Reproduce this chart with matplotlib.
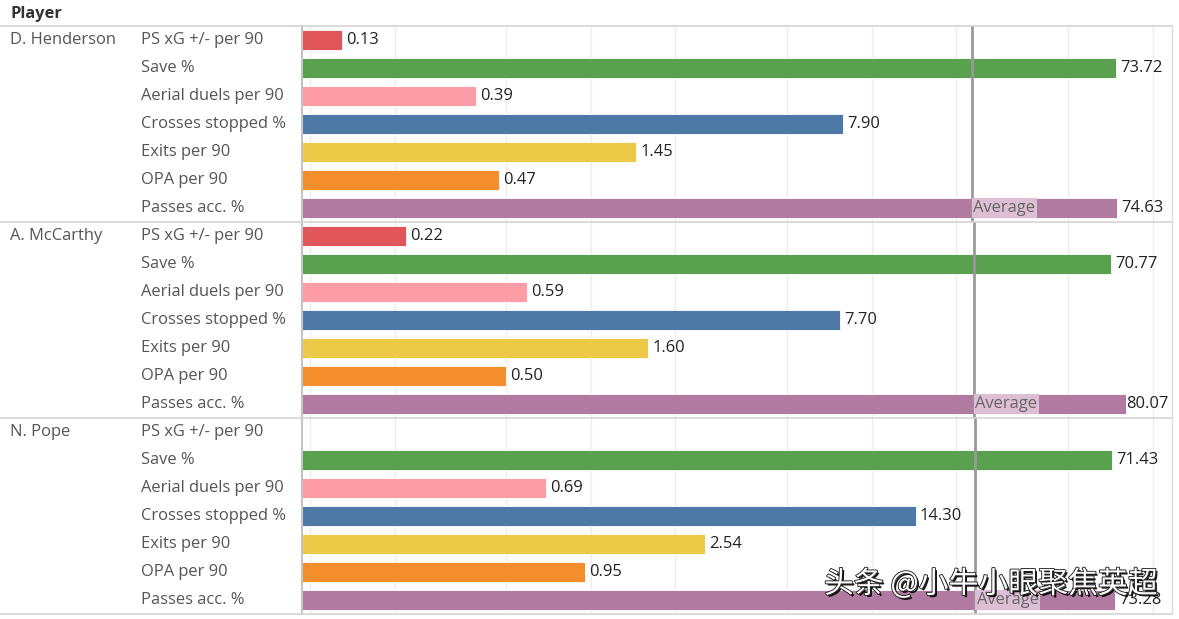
import numpy as np
import matplotlib
matplotlib.use("Agg")
import matplotlib.pyplot as plt
import matplotlib.transforms as mtransforms
import matplotlib.patheffects as pe

plt.rcParams['font.family'] = ['Open Sans', 'DejaVu Sans']

players = ['D. Henderson', 'A. McCarthy', 'N. Pope']
metrics = ['PS xG +/- per 90', 'Save %', 'Aerial duels per 90', 'Crosses stopped %',
           'Exits per 90', 'OPA per 90', 'Passes acc. %']
henderson = [0.13, 73.72, 0.39, 7.90, 1.45, 0.47, 74.63]
mccarthy = [0.22, 70.77, 0.59, 7.70, 1.60, 0.50, 80.07]
pope = [0.0, 71.43, 0.69, 14.30, 2.54, 0.95, 73.28]   # no PS xG bar shown for Pope
colors = ['#E15759', '#59A14F', '#FF9DA7', '#4E79A7', '#EDC948', '#F28E2B', '#B07AA1']
grid_ticks = [0.1, 0.2, 0.5, 1, 2, 5, 10, 20, 50, 100]

W, H = 1179, 619
fig = plt.figure(figsize=(W / 100, H / 100), dpi=100)
fx = lambda px: px / W
fy = lambda py: 1 - py / H

xmin, xmax = 0.0937, 117
left_px, right_px = 302, 1172
panel_edges = [26, 222, 418, 614]
text_grey = '#555555'
fs = 11.9

fig.text(fx(11), fy(14), 'Player', fontsize=11.8, fontweight='bold', color='#333333', va='center')

def to_px(v):
    return left_px + (np.log10(v) - np.log10(xmin)) / (np.log10(xmax) - np.log10(xmin)) * (right_px - left_px)

for i, (name, vals) in enumerate(zip(players, [henderson, mccarthy, pope])):
    top, bot = panel_edges[i], panel_edges[i + 1]
    ax = fig.add_axes([fx(left_px), fy(bot), fx(right_px - left_px), (bot - top) / H])
    ax.set_xscale('log')
    ax.set_xlim(xmin, xmax)
    ax.set_ylim(6.5, -0.5)
    for t in grid_ticks:
        ax.axvline(t, color='#ececec', lw=1, zorder=0)
    ys = np.arange(len(metrics))
    for y, v, c in zip(ys, vals, colors):
        if v <= 0:
            continue
        ax.barh(y, v - xmin, left=xmin, height=0.72, color=c, edgecolor='white', lw=0.6, zorder=2)
        label = f'{v:.2f}'
        if to_px(v) + 50 > right_px:
            ax.annotate(label, (xmax, y), xytext=(-2.5, 0), textcoords='offset points',
                        ha='right', va='center', fontsize=fs, color='#222222', zorder=5)
        else:
            ax.annotate(label, (v, y), xytext=(3, 0), textcoords='offset points',
                        ha='left', va='center', fontsize=fs, color='#222222', zorder=5)
    avg = np.mean(vals)
    ax.axvline(avg, color='#999999', lw=2, zorder=4)
    ax.text(avg * 1.012, 6, 'Average', ha='left', va='center', fontsize=fs, color='#666666', zorder=5,
            bbox=dict(boxstyle='square,pad=0.1', facecolor='#DDBFD4', edgecolor='none'))
    ax.set_xticks([])
    ax.set_yticks([])
    ax.minorticks_off()
    for s in ['top', 'bottom', 'right']:
        ax.spines[s].set_visible(False)
    ax.spines['left'].set_color('#c4c4c4')
    ax.spines['left'].set_linewidth(1.5)

    tr = mtransforms.blended_transform_factory(fig.transFigure, ax.transData)
    ax.text(fx(10), 0, name, transform=tr, ha='left', va='center', fontsize=fs, color=text_grey, clip_on=False)
    for y, m in zip(ys, metrics):
        ax.text(fx(141), y, m, transform=tr, ha='left', va='center', fontsize=fs, color=text_grey, clip_on=False)

for py in panel_edges:
    fig.add_artist(plt.Line2D([0, fx(right_px)], [fy(py), fy(py)], color='#d4d4d4', lw=1.2))
fig.add_artist(plt.Line2D([fx(right_px), fx(right_px)], [fy(26), fy(614)], color='#dcdcdc', lw=1))

fig.text(fx(824), fy(584), '头条 @小牛小眼聚焦英超', fontsize=21.5, color='white', va='center',
         family=['Noto Sans CJK SC', 'DejaVu Sans'],
         path_effects=[pe.withSimplePatchShadow(offset=(1.5, -1.5), shadow_rgbFace='black', alpha=0.9),
                       pe.Stroke(linewidth=1.3, foreground='#222222'), pe.Normal()])

fig.savefig('out.png', dpi=100, facecolor='white')
